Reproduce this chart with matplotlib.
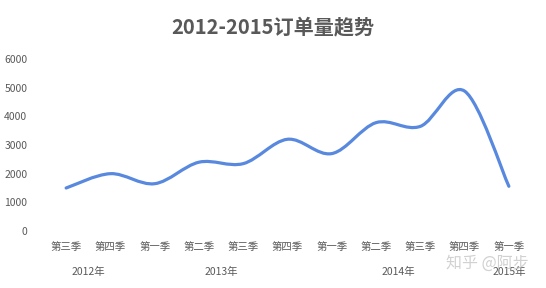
import matplotlib
matplotlib.use("Agg")
import matplotlib.pyplot as plt
from matplotlib.path import Path
from matplotlib.patches import PathPatch
import numpy as np

plt.rcParams['font.family'] = ['Noto Sans CJK SC', 'DejaVu Sans']

title = "2012-2015订单量趋势"
quarters = ["第三季", "第四季", "第一季", "第二季", "第三季", "第四季",
            "第一季", "第二季", "第三季", "第四季", "第一季"]
orders = [1500, 2000, 1650, 2400, 2350, 3200, 2700, 3780, 3650, 4880, 1560]
years = ["2012年", "2013年", "2014年", "2015年"]
year_spans = [(0, 1), (2, 5), (6, 9), (10, 10)]
yticks = [0, 1000, 2000, 3000, 4000, 5000, 6000]

W, H = 546, 288
fig = plt.figure(figsize=(W / 100, H / 100), dpi=100)
ax = fig.add_axes([44 / W, 1 - 231 / H, (531 - 44) / W, (231 - 59) / H])

x = np.arange(len(orders), dtype=float)
y = np.array(orders, dtype=float)

# Smoothed line (Catmull-Rom style Bezier like Excel's smoothed line)
verts = [(x[0], y[0])]
codes = [Path.MOVETO]
n = len(x)
for i in range(n - 1):
    p0 = (x[i - 1], y[i - 1]) if i > 0 else (x[i], y[i])
    p1 = (x[i], y[i])
    p2 = (x[i + 1], y[i + 1])
    p3 = (x[i + 2], y[i + 2]) if i + 2 < n else (x[i + 1], y[i + 1])
    c1 = (p1[0] + (p2[0] - p0[0]) / 6, p1[1] + (p2[1] - p0[1]) / 6)
    c2 = (p2[0] - (p3[0] - p1[0]) / 6, p2[1] - (p3[1] - p1[1]) / 6)
    verts += [c1, c2, p2]
    codes += [Path.CURVE4] * 3
patch = PathPatch(Path(verts, codes), facecolor='none', edgecolor='#5889DE',
                  linewidth=2.3, capstyle='round', joinstyle='round')
ax.add_patch(patch)

ax.set_xlim(-0.5, n - 0.5)
ax.set_ylim(0, 6000)
ax.set_yticks(yticks)
ax.set_yticklabels([str(v) for v in yticks], fontsize=7.5, color='#595959')
ax.set_xticks(x)
ax.set_xticklabels(quarters, fontsize=7.5, color='#595959')
ax.tick_params(axis='both', length=0)
ax.tick_params(axis='x', pad=8)
ax.tick_params(axis='y', pad=12)
for s in ax.spines.values():
    s.set_visible(False)

year_y = -(272 - 231) / (231 - 59)
for name, (a, b) in zip(years, year_spans):
    ax.text((a + b) / 2, year_y, name, transform=ax.get_xaxis_transform(),
            ha='center', va='center', fontsize=7.5, color='#595959')

fig.text(0.5, 1 - 27 / H, title, ha='center', va='center', fontsize=14.5,
         fontweight='bold', color='#595959')

fig.text(487 / W, 1 - 263 / H, "知乎 @阿步", ha='center', va='center',
         fontsize=11.5, color='#cccccc', alpha=0.9)

fig.savefig("out.png", dpi=100)
